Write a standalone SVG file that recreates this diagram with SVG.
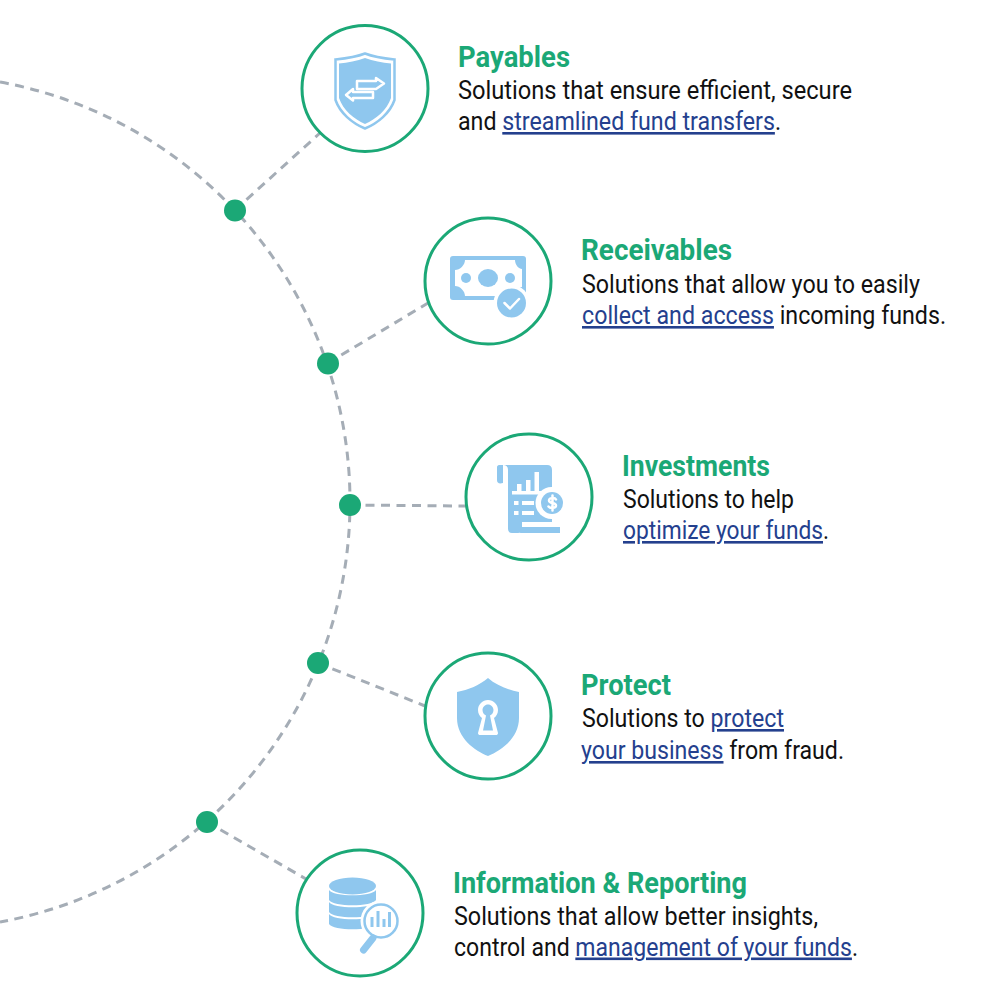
<svg xmlns="http://www.w3.org/2000/svg" width="1000" height="1000" viewBox="0 0 1000 1000">
<style>
text{font-family:Roboto,"Liberation Sans",sans-serif;font-size:26px;fill:#111;}
.h{font-size:29.500px;font-weight:700;fill:#1ba876;}
.l{fill:#24408e;text-decoration:underline;}
.ring{fill:#fff;stroke:#1ba876;stroke-width:3;}
.dot{fill:#1ba876;}
.dash{fill:none;stroke:#a5adb6;stroke-width:3;stroke-dasharray:9 6.500;}
.i{fill:#8fc7ee;}
.w{fill:#fff;}
.wl{fill:none;stroke:#fff;stroke-width:2.5;stroke-linejoin:round;stroke-linecap:round;}
.b{fill:none;stroke:#8fc7ee;stroke-width:2.500;}
</style>
<rect width="1000" height="1000" fill="#fff"/>
<g id="connectors">
<path class="dash" d="M0 82A427 427 0 0 1 0 922"/>
<path class="dash" d="M235 210L320 133"/>
<path class="dash" d="M328 363L428 303"/>
<path class="dash" d="M350 505L466 506"/>
<path class="dash" d="M318 663L425 706"/>
<path class="dash" d="M207 822L306 879"/>
<circle class="dot" cx="235" cy="210.500" r="11"/>
<circle class="dot" cx="328" cy="363.500" r="11"/>
<circle class="dot" cx="350" cy="505" r="11"/>
<circle class="dot" cx="318" cy="663" r="11"/>
<circle class="dot" cx="207" cy="822" r="11"/>
</g>
<g id="payables">
<circle class="ring" cx="365" cy="88.500" r="63"/>
<path class="b" d="M365 53.500C356 57 345 58.500 335.500 59.500V100C340 113 352 123 365 128.500C378 123 390 113 394.500 100V59.500C385 58.500 374 57 365 53.500Z"/>
<path class="i" d="M365 58C357 61 348 62.500 339 63.500V98C343 110 354 119 365 124C376 119 387 110 391 98V63.500C382 62.500 373 61 365 58Z"/>
<path class="wl" d="M357 81H376V78L384 83.500L376 89H357ZM373 92H353V89L346 95L353 100.500V98H373Z" stroke-width="2"/>
<text class="h" x="458" y="67" textLength="112" lengthAdjust="spacingAndGlyphs">Payables</text>
<text x="458" y="99" textLength="394" lengthAdjust="spacingAndGlyphs">Solutions that ensure efficient, secure</text>
<text x="458" y="130" textLength="323" lengthAdjust="spacingAndGlyphs">and <tspan class="l">streamlined fund transfers</tspan>.</text>
</g>
<g id="receivables">
<circle class="ring" cx="488" cy="281" r="63"/>
<rect class="i" x="450" y="256" width="76" height="44" rx="3"/>
<path class="w" d="M465 260H515C515 265 519 269 522 269V287C517 287 514 292 514 296H465C465 291 460 286 455 286V270C460 270 465 265 465 260Z"/>
<ellipse class="i" cx="488" cy="278" rx="10" ry="9"/>
<circle class="i" cx="466" cy="278" r="5"/>
<circle class="i" cx="510" cy="278" r="5"/>
<circle class="w" cx="511.500" cy="303" r="18"/>
<circle class="i" cx="511.500" cy="303" r="14.500"/>
<path class="wl" d="M504.500 303L510 308.500L519 299" stroke-width="3.500"/>
<text class="h" x="581" y="260" textLength="151" lengthAdjust="spacingAndGlyphs">Receivables</text>
<text x="582" y="292.500" textLength="338" lengthAdjust="spacingAndGlyphs">Solutions that allow you to easily</text>
<text x="582" y="324" textLength="364" lengthAdjust="spacingAndGlyphs"><tspan class="l">collect and access</tspan> incoming funds.</text>
</g>
<g id="investments">
<circle class="ring" cx="529" cy="497" r="63"/>
<path class="i" d="M499 465H503V483C499 484 497 483 497 480V467C497 466 498 465 499 465Z"/>
<path class="i" d="M503 465H547Q552 465 552 470V522H522V530Q522 533 518 533H512Q508 533 508 529V470Q508 465 503 465Z"/>
<path class="i" d="M521 527H560V533H520Z"/>
<circle class="w" cx="551.500" cy="503" r="16"/>
<circle class="i" cx="552" cy="503" r="11"/>
<path class="w" d="M517 491H521.500V484H517ZM526 491H530.500V480H526ZM534.500 491H539V472H534.500Z"/>
<rect class="w" x="512" y="491" width="31" height="3.500"/>
<rect class="w" x="514" y="501" width="4.500" height="4"/>
<rect class="w" x="522" y="501" width="12" height="4"/>
<rect class="w" x="514" y="511" width="4.500" height="4"/>
<rect class="w" x="522" y="511" width="12" height="4"/>
<path class="wl" d="M556 499.500C555 497.500 549 497.500 549 500.500C549 504 556 502 556 505.500C556 508.500 550 508.500 548.500 506.500M552.500 495.500V510.500" stroke-width="1.800"/>
<text class="h" x="622" y="476" textLength="148" lengthAdjust="spacingAndGlyphs">Investments</text>
<text x="623" y="508" textLength="171" lengthAdjust="spacingAndGlyphs">Solutions to help</text>
<text x="623" y="539" textLength="206" lengthAdjust="spacingAndGlyphs"><tspan class="l">optimize your funds</tspan>.</text>
</g>
<g id="protect">
<circle class="ring" cx="488" cy="716" r="63"/>
<path class="i" d="M488 678C480 685 468 690 457 692V718C457 738 475 751 488 756C501 751 519 738 519 718V692C508 690 496 685 488 678Z"/>
<path class="w" d="M488 700C482.500 700 478 704.500 478 710C478 713.500 479.500 716 482 718L478 733C478 734.500 479 735 480 735H496C497 735 498 734.500 498 733L494 718C496.500 716 498 713.500 498 710C498 704.500 493.500 700 488 700Z"/>
<path class="i" d="M488 704.500C485 704.500 482.500 707 482.500 710C482.500 713 484.500 715 486 715.500L483 730.500H493L490 715.500C491.500 715 493.500 713 493.500 710C493.500 707 491 704.500 488 704.500Z"/>
<text class="h" x="581" y="695" textLength="90" lengthAdjust="spacingAndGlyphs">Protect</text>
<text x="582" y="727" textLength="202" lengthAdjust="spacingAndGlyphs">Solutions to <tspan class="l">protect</tspan></text>
<text x="581" y="759" textLength="263" lengthAdjust="spacingAndGlyphs"><tspan class="l">your business</tspan> from fraud.</text>
</g>
<g id="information-reporting">
<circle class="ring" cx="360" cy="913" r="63"/>
<ellipse class="i" cx="352.500" cy="886" rx="23.500" ry="8.500"/>
<path class="i" d="M329 890C333 897 372 897 376 890V900C372 907 333 907 329 900Z"/>
<path class="i" d="M329 902C333 909 372 909 376 902V912C372 919 333 919 329 912Z"/>
<path class="i" d="M329 914C333 921 372 921 376 914V924C372 931 333 931 329 924Z"/>
<circle class="w" cx="381" cy="921" r="20.500"/>
<circle cx="381" cy="921" r="16.500" fill="#fff" stroke="#8fc7ee" stroke-width="2.500"/>
<path class="i" d="M372 917H375V927H372ZM378 911H381V927H378ZM384 919H387V927H384ZM389.500 912H392.500V927H389.500Z" transform="translate(-1.500 0)"/>
<path d="M373 938L363.500 950" stroke="#8fc7ee" stroke-width="7" stroke-linecap="round" fill="none"/>
<path d="M372 937L375 939" stroke="#8fc7ee" stroke-width="3" fill="none"/>
<text class="h" x="453" y="893" textLength="294" lengthAdjust="spacingAndGlyphs">Information &amp; Reporting</text>
<text x="454" y="924.500" textLength="364" lengthAdjust="spacingAndGlyphs">Solutions that allow better insights,</text>
<text x="454" y="955.500" textLength="404" lengthAdjust="spacingAndGlyphs">control and <tspan class="l">management of your funds</tspan>.</text>
</g>
</svg>
